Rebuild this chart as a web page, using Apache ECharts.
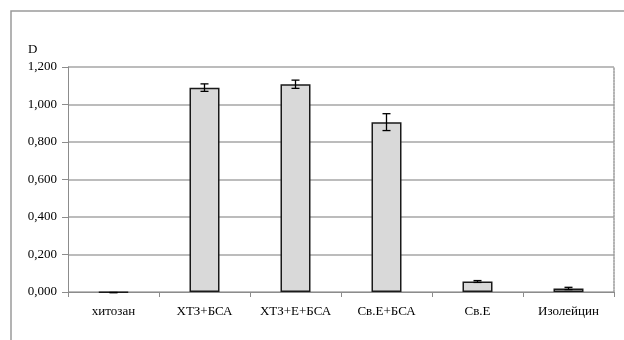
<!DOCTYPE html>
<html>
<head>
<meta charset="utf-8">
<script src="https://cdn.jsdelivr.net/npm/echarts@6/dist/echarts.min.js"></script>
<style>
  html, body { margin: 0; padding: 0; background: #fff; }
  #chart { width: 624px; height: 340px; }
</style>
</head>
<body>
<div id="chart"></div>
<script>
// Optical density D for each sample, with error half-widths
const categories = ['хитозан', 'ХТЗ+БСА', 'ХТЗ+Е+БСА', 'Св.Е+БСА', 'Св.Е', 'Изолейцин'];
const values = [-0.003, 1.090, 1.108, 0.906, 0.056, 0.019];
const errors = [0.000, 0.020, 0.022, 0.045, 0.005, 0.006];
const yTicks = { min: 0, max: 1.2, step: 0.2 };

const FONT = '"Liberation Serif", "Times New Roman", serif';
const GRID = '#a6a6a6';

const chart = echarts.init(document.getElementById('chart'), null, { renderer: 'canvas' });

const errorData = values.map((v, i) => [i, v - errors[i], v + errors[i]]);

chart.setOption({
  animation: false,
  backgroundColor: '#ffffff',
  grid: { left: 68, right: 10, top: 67, bottom: 48 },
  graphic: [
    // outer chart frame (top and left edges)
    { type: 'polyline', shape: { points: [[11, 340], [11, 11], [624, 11]] },
      style: { stroke: '#9a9a9a', lineWidth: 1.5, fill: null }, silent: true },
    { type: 'text', left: 28, top: 43,
      style: { text: 'D', font: '13px ' + FONT, fill: '#000' } }
  ],
  xAxis: {
    type: 'category',
    data: categories,
    axisLine: { lineStyle: { color: '#8c8c8c', width: 1 } },
    axisTick: { show: true, length: 5, alignWithLabel: false, lineStyle: { color: '#8c8c8c' } },
    axisLabel: { color: '#000', fontFamily: FONT, fontSize: 13, margin: 13, interval: 0, hideOverlap: false }
  },
  yAxis: [{
    type: 'value',
    min: yTicks.min, max: yTicks.max, interval: yTicks.step,
    axisLine: { show: true, lineStyle: { color: '#8c8c8c', width: 1 } },
    axisTick: { show: true, length: 6, lineStyle: { color: '#8c8c8c' } },
    splitLine: { show: true, lineStyle: { color: GRID, width: 1.5 } },
    axisLabel: {
      color: '#000', fontFamily: FONT, fontSize: 13, margin: 11,
      formatter: v => v.toFixed(3).replace('.', ',')
    }
  }, {
    type: 'value', position: 'right',
    min: yTicks.min, max: yTicks.max, interval: yTicks.step,
    axisLine: { show: true, lineStyle: { color: '#9a9a9a', width: 1.5, type: [2, 1] } },
    axisTick: { show: false }, axisLabel: { show: false }, splitLine: { show: false }
  }],
  series: [{
    type: 'bar',
    data: values,
    barWidth: 30,
    clip: false,
    itemStyle: { color: '#d9d9d9', borderColor: '#1a1a1a', borderWidth: 1.5 }
  }, {
    type: 'custom',
    data: errorData,
    clip: false,
    z: 5,
    renderItem: (params, api) => {
      const x = api.value(0);
      const lo = api.coord([x, api.value(1)]);
      const hi = api.coord([x, api.value(2)]);
      const cap = 4;
      const style = { stroke: '#000', lineWidth: 1.3 };
      return {
        type: 'group',
        children: [
          { type: 'line', shape: { x1: lo[0], y1: lo[1], x2: hi[0], y2: hi[1] }, style },
          { type: 'line', shape: { x1: hi[0] - cap, y1: hi[1], x2: hi[0] + cap, y2: hi[1] }, style },
          { type: 'line', shape: { x1: lo[0] - cap, y1: lo[1], x2: lo[0] + cap, y2: lo[1] }, style }
        ]
      };
    }
  }]
});
</script>
</body>
</html>
